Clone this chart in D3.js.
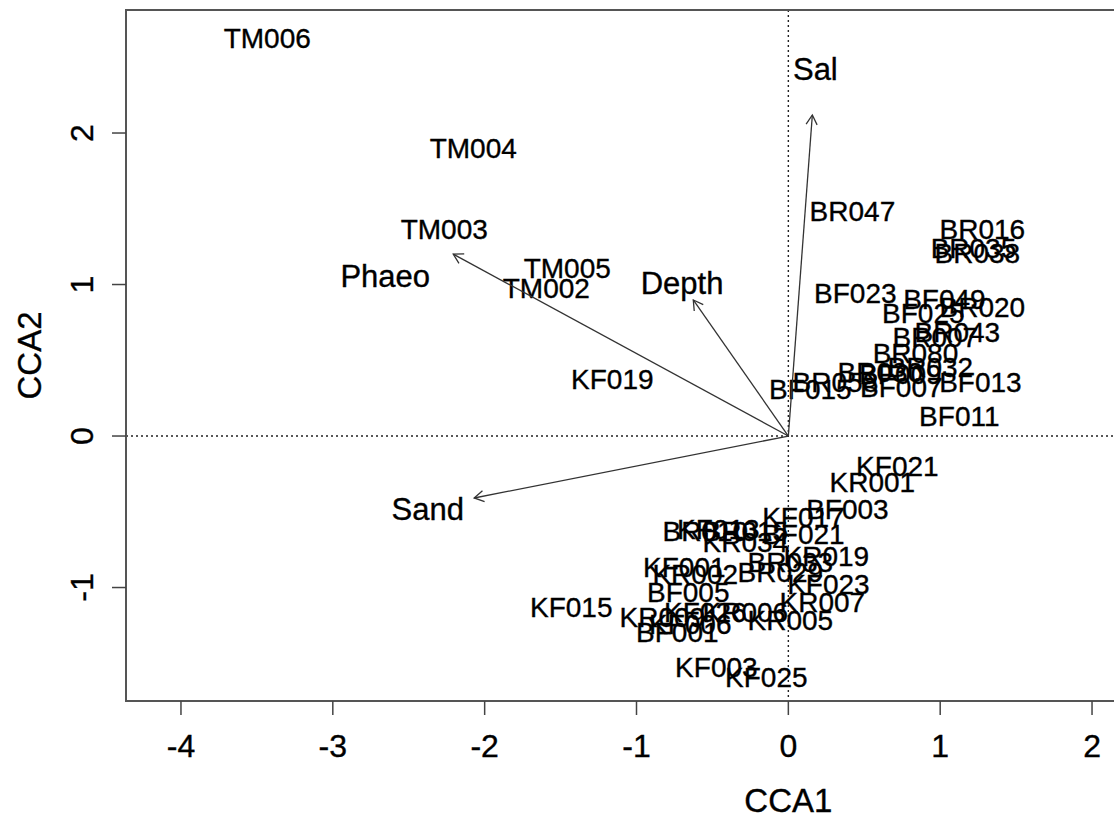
<!DOCTYPE html>
<html lang="en-US">
<head>
<meta charset="UTF-8" />
<title>CCA biplot</title>
<style>
  body { margin: 0; background: #fff; }
  text { font-family: "Liberation Sans", Arial, sans-serif; fill: #000; stroke: #000; stroke-width: 0.35px; }
  .site { font-size: 28px; }
  .env { font-size: 31px; }
  .tick-label { font-size: 32px; }
  .title { font-size: 33px; }
</style>
<script src="https://d3js.org/d3.v7.min.js"></script>
</head>
<body>
<div id="chart"></div>
<script>
// site scores (CCA1, CCA2)
const siteNames = [
  "TM006", "TM004", "TM003", "TM005", "TM002", "KF019",
  "BR047", "BR016", "BR035", "BR038", "BF023", "BF049", "BR020", "BF025",
  "BR043", "BR007", "BR080", "BR032", "BF013", "BR030", "BF009", "BR058",
  "BF015", "BF007", "BF011",
  "KF021", "KR001", "BF003", "KF017", "BR010", "KF013", "BR015", "BF021",
  "KR034", "KR019", "BR033", "KF001", "KR002", "BR029", "KF023", "BF005",
  "KR007", "KF015", "KR009", "KF026", "KR006", "KR005", "BF001", "KF006",
  "KF003", "KF025"
];
const siteCCA1 = [
  -3.432, -2.075, -2.266, -1.456, -1.594, -1.159,
  0.422, 1.278, 1.219, 1.245, 0.441, 1.028, 1.278, 0.889,
  1.113, 0.968, 0.837, 0.935, 1.265, 0.606, 0.738, 0.310,
  0.145, 0.744, 1.126,
  0.718, 0.553, 0.389, 0.099, -0.547, -0.461, -0.283, 0.099,
  -0.283, 0.250, 0.013, -0.685, -0.613, -0.053, 0.264, -0.659,
  0.224, -1.430, -0.830, -0.547, -0.283, 0.013, -0.731, -0.646,
  -0.474, -0.145
];
const siteCCA2 = [
  2.627, 1.901, 1.360, 1.109, 0.977, 0.376,
  1.485, 1.366, 1.241, 1.208, 0.944, 0.898, 0.851, 0.812,
  0.686, 0.653, 0.548, 0.455, 0.356, 0.422, 0.409, 0.356,
  0.304, 0.323, 0.132,
  -0.198, -0.310, -0.488, -0.541, -0.627, -0.614, -0.627, -0.653,
  -0.706, -0.792, -0.832, -0.871, -0.917, -0.904, -0.983, -1.036,
  -1.102, -1.135, -1.195, -1.162, -1.162, -1.215, -1.294, -1.241,
  -1.531, -1.591
];

// environmental vectors
const envNames = ["Sal", "Phaeo", "Depth", "Sand"];
const envCCA1 = [0.158, -2.207, -0.626, -2.069];
const envCCA2 = [2.119, 1.201, 0.898, -0.409];
const envLabelCCA1 = [0.178, -2.655, -0.700, -2.375];
const envLabelCCA2 = [2.416, 1.056, 1.008, -0.488];

const xTicks = [-4, -3, -2, -1, 0, 1, 2];
const yTicks = [-1, 0, 1, 2];

const width = 1114, height = 817;
const margin = { left: 126, top: 10, right: -4, bottom: 116 };

const svg = d3.select("#chart").append("svg")
  .attr("width", width).attr("height", height);

const x = d3.scaleLinear()
  .domain([-4.362, 2.171])
  .range([margin.left, width - margin.right]);
const y = d3.scaleLinear()
  .domain([-1.749, 2.812])
  .range([height - margin.bottom, margin.top]);

const sites = siteNames.map((n, i) => ({ name: n, x: siteCCA1[i], y: siteCCA2[i] }));
const env = envNames.map((n, i) => ({
  name: n, x: envCCA1[i], y: envCCA2[i], lx: envLabelCCA1[i], ly: envLabelCCA2[i]
}));

// zero reference lines
svg.append("line")
  .attr("x1", x(0)).attr("x2", x(0))
  .attr("y1", y.range()[1]).attr("y2", y.range()[0])
  .attr("stroke", "#222").attr("stroke-width", 1.4).attr("stroke-dasharray", "2,3");
svg.append("line")
  .attr("x1", x.range()[0]).attr("x2", x.range()[1])
  .attr("y1", y(0)).attr("y2", y(0))
  .attr("stroke", "#222").attr("stroke-width", 1.4).attr("stroke-dasharray", "2,3");

// site labels
svg.append("g").selectAll("text")
  .data(sites)
  .join("text")
  .attr("class", "site")
  .attr("x", d => x(d.x))
  .attr("y", d => y(d.y))
  .attr("text-anchor", "middle")
  .attr("dominant-baseline", "central")
  .text(d => d.name);

// arrows
const arrows = svg.append("g").attr("stroke", "#333").attr("stroke-width", 1.3).attr("fill", "none");
env.forEach(d => {
  const x0 = x(0), y0 = y(0), x1 = x(d.x), y1 = y(d.y);
  const ang = Math.atan2(y1 - y0, x1 - x0);
  const len = 11, spread = Math.PI / 6;
  arrows.append("line").attr("x1", x0).attr("y1", y0).attr("x2", x1).attr("y2", y1);
  arrows.append("path").attr("d",
    `M${x1 - len * Math.cos(ang - spread)},${y1 - len * Math.sin(ang - spread)}` +
    `L${x1},${y1}` +
    `L${x1 - len * Math.cos(ang + spread)},${y1 - len * Math.sin(ang + spread)}`);
});

svg.append("g").selectAll("text")
  .data(env)
  .join("text")
  .attr("class", "env")
  .attr("x", d => x(d.lx))
  .attr("y", d => y(d.ly))
  .attr("text-anchor", "middle")
  .attr("dominant-baseline", "central")
  .text(d => d.name);

// box
svg.append("rect")
  .attr("x", x.range()[0]).attr("y", y.range()[1])
  .attr("width", x.range()[1] - x.range()[0])
  .attr("height", y.range()[0] - y.range()[1])
  .attr("fill", "none").attr("stroke", "#555").attr("stroke-width", 2);

// x axis
const xAxis = svg.append("g");
xAxis.selectAll("line").data(xTicks).join("line")
  .attr("x1", d => x(d)).attr("x2", d => x(d))
  .attr("y1", y.range()[0]).attr("y2", y.range()[0] + 14)
  .attr("stroke", "#444").attr("stroke-width", 1.5);
xAxis.selectAll("text").data(xTicks).join("text")
  .attr("class", "tick-label")
  .attr("x", d => x(d)).attr("y", y.range()[0] + 45)
  .attr("text-anchor", "middle").attr("dominant-baseline", "central")
  .text(d => d);

// y axis
const yAxis = svg.append("g");
yAxis.selectAll("line").data(yTicks).join("line")
  .attr("x1", x.range()[0] - 14).attr("x2", x.range()[0])
  .attr("y1", d => y(d)).attr("y2", d => y(d))
  .attr("stroke", "#444").attr("stroke-width", 1.5);
yAxis.selectAll("text").data(yTicks).join("text")
  .attr("class", "tick-label")
  .attr("transform", d => `translate(${x.range()[0] - 44},${y(d)}) rotate(-90)`)
  .attr("text-anchor", "middle").attr("dominant-baseline", "central")
  .text(d => d);

svg.append("text").attr("class", "title")
  .attr("x", x(0)).attr("y", 800)
  .attr("text-anchor", "middle").attr("dominant-baseline", "central")
  .text("CCA1");
svg.append("text").attr("class", "title")
  .attr("transform", `translate(29,${(y.range()[0] + y.range()[1]) / 2}) rotate(-90)`)
  .attr("text-anchor", "middle").attr("dominant-baseline", "central")
  .text("CCA2");
</script>
</body>
</html>
